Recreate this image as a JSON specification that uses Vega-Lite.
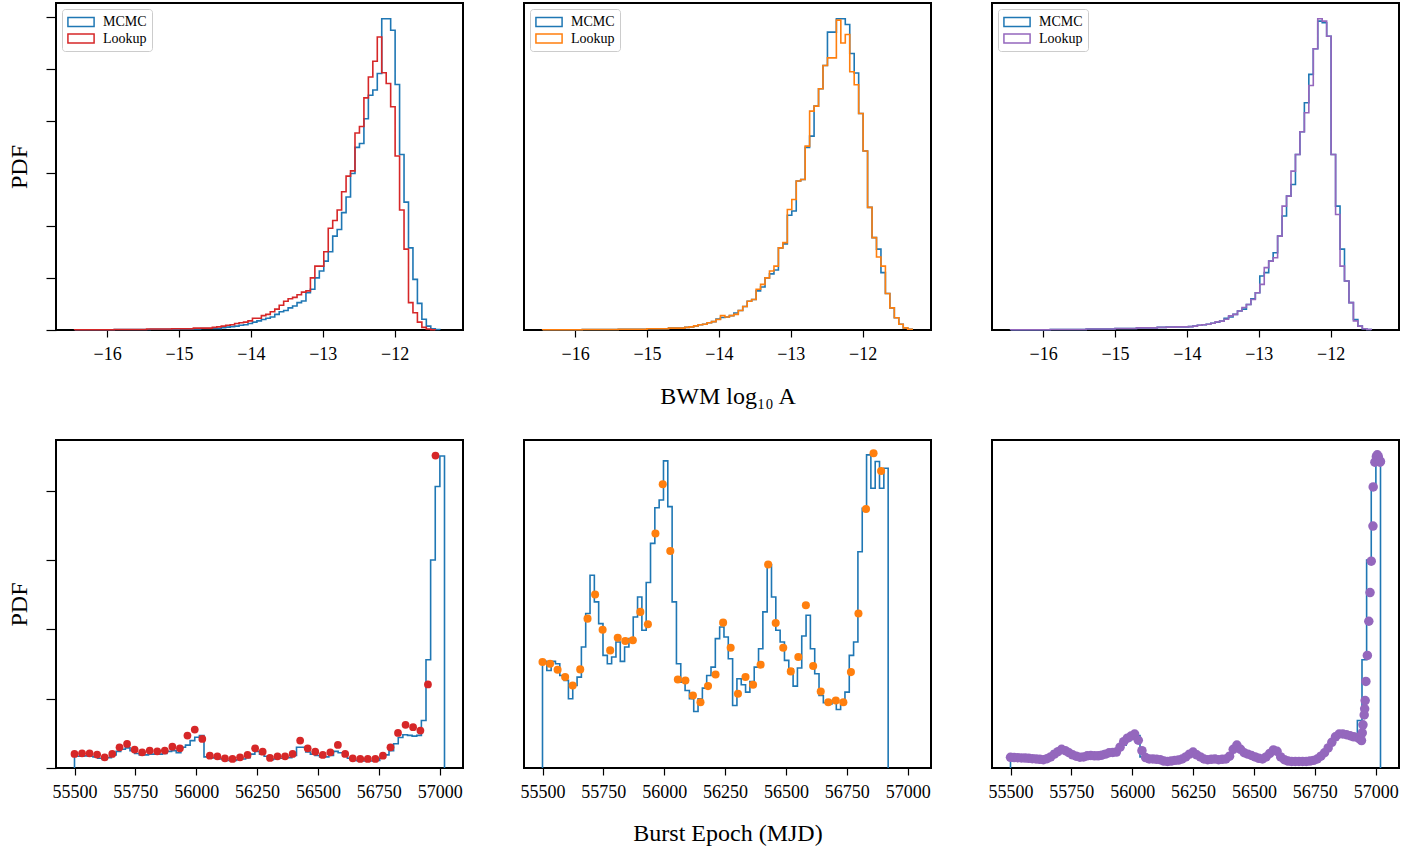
{
"$schema": "https://vega.github.io/schema/vega-lite/v6.json",
"background": "white",
"padding": {"left": 6, "top": 2, "right": 5, "bottom": 5},
"config": {
  "view": {"stroke": "black", "strokeWidth": 2},
  "axis": {"domain": false, "grid": false, "tickColor": "black", "tickWidth": 1.2, "tickSize": 7, "labelFont": "Liberation Serif", "labelFontSize": 18, "labelColor": "black", "labelPadding": 8, "titleFont": "Liberation Serif", "titleFontSize": 24, "titleFontWeight": "normal", "titleColor": "black"},
  "legend": {"orient": "top-left", "offset": 6, "title": null, "labelFont": "Liberation Serif", "labelFontSize": 14, "labelColor": "black", "fillColor": "white", "strokeColor": "#cccccc", "cornerRadius": 3, "padding": 5, "symbolType": "M-1,-0.62H2.7V0.62H-1Z", "symbolSize": 200, "symbolStrokeWidth": 1.5, "symbolFillColor": "transparent", "labelOffset": 20, "rowPadding": 0.5}
},
"datasets": {
"t1": [
{"s":"MCMC","x":-16.45,"y":0},{"s":"MCMC","x":-16.45,"y":0.001},{"s":"MCMC","x":-15.9,"y":0.002},{"s":"MCMC","x":-15.4,"y":0.003},{"s":"MCMC","x":-15.0,"y":0.004},{"s":"MCMC","x":-14.7,"y":0.006},{"s":"MCMC","x":-14.412,"y":0.009},{"s":"MCMC","x":-14.35,"y":0.011},{"s":"MCMC","x":-14.288,"y":0.013},{"s":"MCMC","x":-14.226,"y":0.015},{"s":"MCMC","x":-14.164,"y":0.018},{"s":"MCMC","x":-14.102,"y":0.02},{"s":"MCMC","x":-14.04,"y":0.025},{"s":"MCMC","x":-13.978,"y":0.03},{"s":"MCMC","x":-13.916,"y":0.035},{"s":"MCMC","x":-13.854,"y":0.04},{"s":"MCMC","x":-13.792,"y":0.045},{"s":"MCMC","x":-13.73,"y":0.05},{"s":"MCMC","x":-13.668,"y":0.06},{"s":"MCMC","x":-13.606,"y":0.07},{"s":"MCMC","x":-13.544,"y":0.075},{"s":"MCMC","x":-13.482,"y":0.085},{"s":"MCMC","x":-13.42,"y":0.092},{"s":"MCMC","x":-13.358,"y":0.105},{"s":"MCMC","x":-13.296,"y":0.111},{"s":"MCMC","x":-13.234,"y":0.143},{"s":"MCMC","x":-13.172,"y":0.156},{"s":"MCMC","x":-13.11,"y":0.2},{"s":"MCMC","x":-13.048,"y":0.226},{"s":"MCMC","x":-12.986,"y":0.264},{"s":"MCMC","x":-12.924,"y":0.3},{"s":"MCMC","x":-12.862,"y":0.36},{"s":"MCMC","x":-12.8,"y":0.385},{"s":"MCMC","x":-12.738,"y":0.45},{"s":"MCMC","x":-12.676,"y":0.51},{"s":"MCMC","x":-12.614,"y":0.6},{"s":"MCMC","x":-12.552,"y":0.7},{"s":"MCMC","x":-12.49,"y":0.715},{"s":"MCMC","x":-12.428,"y":0.81},{"s":"MCMC","x":-12.366,"y":0.9},{"s":"MCMC","x":-12.304,"y":0.92},{"s":"MCMC","x":-12.242,"y":0.983},{"s":"MCMC","x":-12.18,"y":1.193},{"s":"MCMC","x":-12.118,"y":1.193},{"s":"MCMC","x":-12.056,"y":1.149},{"s":"MCMC","x":-11.994,"y":0.941},{"s":"MCMC","x":-11.932,"y":0.673},{"s":"MCMC","x":-11.87,"y":0.49},{"s":"MCMC","x":-11.808,"y":0.315},{"s":"MCMC","x":-11.746,"y":0.194},{"s":"MCMC","x":-11.684,"y":0.102},{"s":"MCMC","x":-11.622,"y":0.041},{"s":"MCMC","x":-11.56,"y":0.015},{"s":"MCMC","x":-11.498,"y":0.005},{"s":"MCMC","x":-11.436,"y":0.002},{"s":"MCMC","x":-11.374,"y":0.002},{"s":"MCMC","x":-11.374,"y":0},
{"s":"Lookup","x":-16.45,"y":0},{"s":"Lookup","x":-16.45,"y":0.001},{"s":"Lookup","x":-15.9,"y":0.002},{"s":"Lookup","x":-15.45,"y":0.004},{"s":"Lookup","x":-15.1,"y":0.005},{"s":"Lookup","x":-14.8,"y":0.007},{"s":"Lookup","x":-14.536,"y":0.01},{"s":"Lookup","x":-14.474,"y":0.012},{"s":"Lookup","x":-14.412,"y":0.015},{"s":"Lookup","x":-14.35,"y":0.018},{"s":"Lookup","x":-14.288,"y":0.02},{"s":"Lookup","x":-14.226,"y":0.025},{"s":"Lookup","x":-14.164,"y":0.028},{"s":"Lookup","x":-14.102,"y":0.03},{"s":"Lookup","x":-14.04,"y":0.035},{"s":"Lookup","x":-13.978,"y":0.045},{"s":"Lookup","x":-13.916,"y":0.045},{"s":"Lookup","x":-13.854,"y":0.055},{"s":"Lookup","x":-13.792,"y":0.06},{"s":"Lookup","x":-13.73,"y":0.07},{"s":"Lookup","x":-13.668,"y":0.08},{"s":"Lookup","x":-13.606,"y":0.095},{"s":"Lookup","x":-13.544,"y":0.11},{"s":"Lookup","x":-13.482,"y":0.12},{"s":"Lookup","x":-13.42,"y":0.125},{"s":"Lookup","x":-13.358,"y":0.135},{"s":"Lookup","x":-13.296,"y":0.145},{"s":"Lookup","x":-13.234,"y":0.15},{"s":"Lookup","x":-13.172,"y":0.2},{"s":"Lookup","x":-13.11,"y":0.245},{"s":"Lookup","x":-13.048,"y":0.245},{"s":"Lookup","x":-12.986,"y":0.3},{"s":"Lookup","x":-12.924,"y":0.39},{"s":"Lookup","x":-12.862,"y":0.42},{"s":"Lookup","x":-12.8,"y":0.46},{"s":"Lookup","x":-12.738,"y":0.53},{"s":"Lookup","x":-12.676,"y":0.59},{"s":"Lookup","x":-12.614,"y":0.61},{"s":"Lookup","x":-12.552,"y":0.755},{"s":"Lookup","x":-12.49,"y":0.78},{"s":"Lookup","x":-12.428,"y":0.89},{"s":"Lookup","x":-12.366,"y":0.97},{"s":"Lookup","x":-12.304,"y":1.03},{"s":"Lookup","x":-12.242,"y":1.123},{"s":"Lookup","x":-12.18,"y":0.986},{"s":"Lookup","x":-12.118,"y":0.945},{"s":"Lookup","x":-12.056,"y":0.856},{"s":"Lookup","x":-11.994,"y":0.667},{"s":"Lookup","x":-11.932,"y":0.46},{"s":"Lookup","x":-11.87,"y":0.31},{"s":"Lookup","x":-11.808,"y":0.105},{"s":"Lookup","x":-11.746,"y":0.066},{"s":"Lookup","x":-11.684,"y":0.03},{"s":"Lookup","x":-11.622,"y":0.01},{"s":"Lookup","x":-11.56,"y":0.004},{"s":"Lookup","x":-11.498,"y":0.001},{"s":"Lookup","x":-11.436,"y":0.001},{"s":"Lookup","x":-11.436,"y":0}
],
"t2": [
{"s":"MCMC","x":-16.45,"y":0},{"s":"MCMC","x":-16.45,"y":0.001},{"s":"MCMC","x":-15.9,"y":0.002},{"s":"MCMC","x":-15.4,"y":0.003},{"s":"MCMC","x":-15.0,"y":0.005},{"s":"MCMC","x":-14.7,"y":0.007},{"s":"MCMC","x":-14.474,"y":0.01},{"s":"MCMC","x":-14.412,"y":0.012},{"s":"MCMC","x":-14.35,"y":0.016},{"s":"MCMC","x":-14.288,"y":0.02},{"s":"MCMC","x":-14.226,"y":0.022},{"s":"MCMC","x":-14.164,"y":0.028},{"s":"MCMC","x":-14.102,"y":0.032},{"s":"MCMC","x":-14.04,"y":0.042},{"s":"MCMC","x":-13.978,"y":0.048},{"s":"MCMC","x":-13.916,"y":0.05},{"s":"MCMC","x":-13.854,"y":0.055},{"s":"MCMC","x":-13.792,"y":0.065},{"s":"MCMC","x":-13.73,"y":0.075},{"s":"MCMC","x":-13.668,"y":0.09},{"s":"MCMC","x":-13.606,"y":0.11},{"s":"MCMC","x":-13.544,"y":0.117},{"s":"MCMC","x":-13.482,"y":0.15},{"s":"MCMC","x":-13.42,"y":0.165},{"s":"MCMC","x":-13.358,"y":0.2},{"s":"MCMC","x":-13.296,"y":0.215},{"s":"MCMC","x":-13.234,"y":0.23},{"s":"MCMC","x":-13.172,"y":0.315},{"s":"MCMC","x":-13.11,"y":0.33},{"s":"MCMC","x":-13.048,"y":0.44},{"s":"MCMC","x":-12.986,"y":0.456},{"s":"MCMC","x":-12.924,"y":0.571},{"s":"MCMC","x":-12.862,"y":0.577},{"s":"MCMC","x":-12.8,"y":0.7},{"s":"MCMC","x":-12.738,"y":0.743},{"s":"MCMC","x":-12.676,"y":0.858},{"s":"MCMC","x":-12.614,"y":0.925},{"s":"MCMC","x":-12.552,"y":1.014},{"s":"MCMC","x":-12.49,"y":1.142},{"s":"MCMC","x":-12.428,"y":1.142},{"s":"MCMC","x":-12.366,"y":1.193},{"s":"MCMC","x":-12.304,"y":1.193},{"s":"MCMC","x":-12.242,"y":1.171},{"s":"MCMC","x":-12.18,"y":1.06},{"s":"MCMC","x":-12.118,"y":0.985},{"s":"MCMC","x":-12.056,"y":0.83},{"s":"MCMC","x":-11.994,"y":0.686},{"s":"MCMC","x":-11.932,"y":0.47},{"s":"MCMC","x":-11.87,"y":0.354},{"s":"MCMC","x":-11.808,"y":0.31},{"s":"MCMC","x":-11.746,"y":0.22},{"s":"MCMC","x":-11.684,"y":0.14},{"s":"MCMC","x":-11.622,"y":0.085},{"s":"MCMC","x":-11.56,"y":0.047},{"s":"MCMC","x":-11.498,"y":0.022},{"s":"MCMC","x":-11.436,"y":0.008},{"s":"MCMC","x":-11.374,"y":0.003},{"s":"MCMC","x":-11.312,"y":0.003},{"s":"MCMC","x":-11.312,"y":0},
{"s":"Lookup","x":-16.45,"y":0},{"s":"Lookup","x":-16.45,"y":0.001},{"s":"Lookup","x":-15.9,"y":0.002},{"s":"Lookup","x":-15.4,"y":0.003},{"s":"Lookup","x":-15.0,"y":0.005},{"s":"Lookup","x":-14.7,"y":0.007},{"s":"Lookup","x":-14.474,"y":0.01},{"s":"Lookup","x":-14.412,"y":0.012},{"s":"Lookup","x":-14.35,"y":0.016},{"s":"Lookup","x":-14.288,"y":0.02},{"s":"Lookup","x":-14.226,"y":0.022},{"s":"Lookup","x":-14.164,"y":0.028},{"s":"Lookup","x":-14.102,"y":0.032},{"s":"Lookup","x":-14.04,"y":0.04},{"s":"Lookup","x":-13.978,"y":0.055},{"s":"Lookup","x":-13.916,"y":0.05},{"s":"Lookup","x":-13.854,"y":0.055},{"s":"Lookup","x":-13.792,"y":0.06},{"s":"Lookup","x":-13.73,"y":0.075},{"s":"Lookup","x":-13.668,"y":0.09},{"s":"Lookup","x":-13.606,"y":0.11},{"s":"Lookup","x":-13.544,"y":0.117},{"s":"Lookup","x":-13.482,"y":0.156},{"s":"Lookup","x":-13.42,"y":0.175},{"s":"Lookup","x":-13.358,"y":0.2},{"s":"Lookup","x":-13.296,"y":0.226},{"s":"Lookup","x":-13.234,"y":0.245},{"s":"Lookup","x":-13.172,"y":0.315},{"s":"Lookup","x":-13.11,"y":0.335},{"s":"Lookup","x":-13.048,"y":0.462},{"s":"Lookup","x":-12.986,"y":0.5},{"s":"Lookup","x":-12.924,"y":0.571},{"s":"Lookup","x":-12.862,"y":0.577},{"s":"Lookup","x":-12.8,"y":0.705},{"s":"Lookup","x":-12.738,"y":0.839},{"s":"Lookup","x":-12.676,"y":0.858},{"s":"Lookup","x":-12.614,"y":0.925},{"s":"Lookup","x":-12.552,"y":1.014},{"s":"Lookup","x":-12.49,"y":1.043},{"s":"Lookup","x":-12.428,"y":1.043},{"s":"Lookup","x":-12.366,"y":1.188},{"s":"Lookup","x":-12.304,"y":1.1},{"s":"Lookup","x":-12.242,"y":1.133},{"s":"Lookup","x":-12.18,"y":0.99},{"s":"Lookup","x":-12.118,"y":0.94},{"s":"Lookup","x":-12.056,"y":0.83},{"s":"Lookup","x":-11.994,"y":0.686},{"s":"Lookup","x":-11.932,"y":0.47},{"s":"Lookup","x":-11.87,"y":0.354},{"s":"Lookup","x":-11.808,"y":0.28},{"s":"Lookup","x":-11.746,"y":0.245},{"s":"Lookup","x":-11.684,"y":0.14},{"s":"Lookup","x":-11.622,"y":0.085},{"s":"Lookup","x":-11.56,"y":0.047},{"s":"Lookup","x":-11.498,"y":0.022},{"s":"Lookup","x":-11.436,"y":0.008},{"s":"Lookup","x":-11.374,"y":0.003},{"s":"Lookup","x":-11.312,"y":0.003},{"s":"Lookup","x":-11.312,"y":0}
],
"t3": [
{"s":"MCMC","x":-16.45,"y":0},{"s":"MCMC","x":-16.45,"y":0.001},{"s":"MCMC","x":-15.9,"y":0.002},{"s":"MCMC","x":-15.4,"y":0.004},{"s":"MCMC","x":-15.0,"y":0.006},{"s":"MCMC","x":-14.7,"y":0.008},{"s":"MCMC","x":-14.412,"y":0.01},{"s":"MCMC","x":-14.288,"y":0.011},{"s":"MCMC","x":-14.164,"y":0.012},{"s":"MCMC","x":-14.04,"y":0.012},{"s":"MCMC","x":-13.978,"y":0.013},{"s":"MCMC","x":-13.916,"y":0.015},{"s":"MCMC","x":-13.854,"y":0.018},{"s":"MCMC","x":-13.792,"y":0.02},{"s":"MCMC","x":-13.73,"y":0.022},{"s":"MCMC","x":-13.668,"y":0.026},{"s":"MCMC","x":-13.606,"y":0.03},{"s":"MCMC","x":-13.544,"y":0.034},{"s":"MCMC","x":-13.482,"y":0.045},{"s":"MCMC","x":-13.42,"y":0.05},{"s":"MCMC","x":-13.358,"y":0.06},{"s":"MCMC","x":-13.296,"y":0.073},{"s":"MCMC","x":-13.234,"y":0.08},{"s":"MCMC","x":-13.172,"y":0.098},{"s":"MCMC","x":-13.11,"y":0.12},{"s":"MCMC","x":-13.048,"y":0.143},{"s":"MCMC","x":-12.986,"y":0.207},{"s":"MCMC","x":-12.924,"y":0.22},{"s":"MCMC","x":-12.862,"y":0.264},{"s":"MCMC","x":-12.8,"y":0.296},{"s":"MCMC","x":-12.738,"y":0.36},{"s":"MCMC","x":-12.676,"y":0.437},{"s":"MCMC","x":-12.614,"y":0.513},{"s":"MCMC","x":-12.552,"y":0.558},{"s":"MCMC","x":-12.49,"y":0.673},{"s":"MCMC","x":-12.428,"y":0.76},{"s":"MCMC","x":-12.366,"y":0.871},{"s":"MCMC","x":-12.304,"y":0.98},{"s":"MCMC","x":-12.242,"y":1.078},{"s":"MCMC","x":-12.18,"y":1.184},{"s":"MCMC","x":-12.118,"y":1.178},{"s":"MCMC","x":-12.056,"y":1.126},{"s":"MCMC","x":-11.994,"y":0.673},{"s":"MCMC","x":-11.932,"y":0.475},{"s":"MCMC","x":-11.87,"y":0.31},{"s":"MCMC","x":-11.808,"y":0.188},{"s":"MCMC","x":-11.746,"y":0.105},{"s":"MCMC","x":-11.684,"y":0.04},{"s":"MCMC","x":-11.622,"y":0.015},{"s":"MCMC","x":-11.56,"y":0.005},{"s":"MCMC","x":-11.498,"y":0.002},{"s":"MCMC","x":-11.436,"y":0.002},{"s":"MCMC","x":-11.436,"y":0},
{"s":"Lookup","x":-16.45,"y":0},{"s":"Lookup","x":-16.45,"y":0.001},{"s":"Lookup","x":-15.9,"y":0.002},{"s":"Lookup","x":-15.4,"y":0.004},{"s":"Lookup","x":-15.0,"y":0.006},{"s":"Lookup","x":-14.7,"y":0.008},{"s":"Lookup","x":-14.412,"y":0.01},{"s":"Lookup","x":-14.288,"y":0.011},{"s":"Lookup","x":-14.164,"y":0.012},{"s":"Lookup","x":-14.04,"y":0.012},{"s":"Lookup","x":-13.978,"y":0.013},{"s":"Lookup","x":-13.916,"y":0.015},{"s":"Lookup","x":-13.854,"y":0.018},{"s":"Lookup","x":-13.792,"y":0.02},{"s":"Lookup","x":-13.73,"y":0.022},{"s":"Lookup","x":-13.668,"y":0.026},{"s":"Lookup","x":-13.606,"y":0.031},{"s":"Lookup","x":-13.544,"y":0.034},{"s":"Lookup","x":-13.482,"y":0.041},{"s":"Lookup","x":-13.42,"y":0.054},{"s":"Lookup","x":-13.358,"y":0.06},{"s":"Lookup","x":-13.296,"y":0.073},{"s":"Lookup","x":-13.234,"y":0.086},{"s":"Lookup","x":-13.172,"y":0.098},{"s":"Lookup","x":-13.11,"y":0.117},{"s":"Lookup","x":-13.048,"y":0.143},{"s":"Lookup","x":-12.986,"y":0.175},{"s":"Lookup","x":-12.924,"y":0.239},{"s":"Lookup","x":-12.862,"y":0.264},{"s":"Lookup","x":-12.8,"y":0.277},{"s":"Lookup","x":-12.738,"y":0.36},{"s":"Lookup","x":-12.676,"y":0.475},{"s":"Lookup","x":-12.614,"y":0.513},{"s":"Lookup","x":-12.552,"y":0.609},{"s":"Lookup","x":-12.49,"y":0.673},{"s":"Lookup","x":-12.428,"y":0.76},{"s":"Lookup","x":-12.366,"y":0.833},{"s":"Lookup","x":-12.304,"y":0.937},{"s":"Lookup","x":-12.242,"y":1.078},{"s":"Lookup","x":-12.18,"y":1.193},{"s":"Lookup","x":-12.118,"y":1.184},{"s":"Lookup","x":-12.056,"y":1.126},{"s":"Lookup","x":-11.994,"y":0.673},{"s":"Lookup","x":-11.932,"y":0.443},{"s":"Lookup","x":-11.87,"y":0.245},{"s":"Lookup","x":-11.808,"y":0.188},{"s":"Lookup","x":-11.746,"y":0.105},{"s":"Lookup","x":-11.684,"y":0.035},{"s":"Lookup","x":-11.622,"y":0.015},{"s":"Lookup","x":-11.56,"y":0.005},{"s":"Lookup","x":-11.498,"y":0.002},{"s":"Lookup","x":-11.436,"y":0.002},{"s":"Lookup","x":-11.436,"y":0}
],
"b1": [
{"x":55500,"y":0},{"x":55500,"y":0.17},{"x":55519,"y":0.17},{"x":55538,"y":0.175},{"x":55557,"y":0.17},{"x":55576,"y":0.16},{"x":55595,"y":0.14},{"x":55614,"y":0.125},{"x":55633,"y":0.15},{"x":55652,"y":0.19},{"x":55671,"y":0.24},{"x":55690,"y":0.27},{"x":55709,"y":0.29},{"x":55728,"y":0.25},{"x":55747,"y":0.21},{"x":55766,"y":0.19},{"x":55785,"y":0.19},{"x":55804,"y":0.2},{"x":55823,"y":0.2},{"x":55842,"y":0.2},{"x":55861,"y":0.21},{"x":55880,"y":0.24},{"x":55899,"y":0.25},{"x":55918,"y":0.22},{"x":55937,"y":0.3},{"x":55956,"y":0.33},{"x":55975,"y":0.395},{"x":55994,"y":0.443},{"x":56013,"y":0.467},{"x":56032,"y":0.16},{"x":56051,"y":0.15},{"x":56070,"y":0.145},{"x":56089,"y":0.13},{"x":56108,"y":0.115},{"x":56127,"y":0.11},{"x":56146,"y":0.11},{"x":56165,"y":0.12},{"x":56184,"y":0.13},{"x":56203,"y":0.15},{"x":56222,"y":0.2},{"x":56241,"y":0.24},{"x":56260,"y":0.2},{"x":56279,"y":0.17},{"x":56298,"y":0.12},{"x":56317,"y":0.13},{"x":56336,"y":0.14},{"x":56355,"y":0.14},{"x":56374,"y":0.15},{"x":56393,"y":0.18},{"x":56412,"y":0.3},{"x":56431,"y":0.3},{"x":56450,"y":0.23},{"x":56469,"y":0.2},{"x":56488,"y":0.18},{"x":56507,"y":0.16},{"x":56526,"y":0.16},{"x":56545,"y":0.18},{"x":56564,"y":0.24},{"x":56583,"y":0.22},{"x":56602,"y":0.17},{"x":56621,"y":0.14},{"x":56640,"y":0.11},{"x":56659,"y":0.105},{"x":56678,"y":0.1},{"x":56697,"y":0.1},{"x":56716,"y":0.1},{"x":56735,"y":0.11},{"x":56754,"y":0.14},{"x":56773,"y":0.19},{"x":56792,"y":0.25},{"x":56811,"y":0.35},{"x":56830,"y":0.44},{"x":56849,"y":0.48},{"x":56868,"y":0.47},{"x":56887,"y":0.46},{"x":56906,"y":0.47},{"x":56925,"y":0.684},{"x":56944,"y":1.56},{"x":56963,"y":3.0},{"x":56982,"y":4.06},{"x":57001,"y":4.5},{"x":57020,"y":4.5},{"x":57020,"y":0}
],
"b2": [
{"x":55500,"y":0},{"x":55500,"y":1.537},{"x":55517.75,"y":1.407},{"x":55535.5,"y":1.537},{"x":55553.25,"y":1.504},{"x":55571,"y":1.335},{"x":55588.75,"y":1.263},{"x":55606.5,"y":0.998},{"x":55624.25,"y":1.19},{"x":55642,"y":1.311},{"x":55659.75,"y":1.745},{"x":55677.5,"y":2.227},{"x":55695.25,"y":2.78},{"x":55713,"y":2.395},{"x":55730.75,"y":2.082},{"x":55748.5,"y":1.624},{"x":55766.25,"y":1.504},{"x":55784,"y":1.6},{"x":55801.75,"y":1.817},{"x":55819.5,"y":1.537},{"x":55837.25,"y":1.745},{"x":55855,"y":1.865},{"x":55872.75,"y":2.178},{"x":55890.5,"y":2.467},{"x":55908.25,"y":1.986},{"x":55926,"y":2.675},{"x":55943.75,"y":3.239},{"x":55961.5,"y":3.754},{"x":55979.25,"y":3.865},{"x":55997,"y":4.429},{"x":56014.75,"y":3.769},{"x":56032.5,"y":2.395},{"x":56050.25,"y":1.504},{"x":56068,"y":1.239},{"x":56085.75,"y":1.118},{"x":56103.5,"y":0.998},{"x":56121.25,"y":0.814},{"x":56139,"y":0.998},{"x":56156.75,"y":1.152},{"x":56174.5,"y":1.335},{"x":56192.25,"y":1.455},{"x":56210,"y":1.865},{"x":56227.75,"y":2.034},{"x":56245.5,"y":1.889},{"x":56263.25,"y":1.576},{"x":56281,"y":0.901},{"x":56298.75,"y":1.287},{"x":56316.5,"y":1.2},{"x":56334.25,"y":1.094},{"x":56352,"y":1.248},{"x":56369.75,"y":1.455},{"x":56387.5,"y":1.72},{"x":56405.25,"y":2.251},{"x":56423,"y":2.935},{"x":56440.75,"y":2.467},{"x":56458.5,"y":1.986},{"x":56476.25,"y":1.817},{"x":56494,"y":1.552},{"x":56511.75,"y":1.431},{"x":56529.5,"y":1.181},{"x":56547.25,"y":1.441},{"x":56565,"y":1.904},{"x":56582.75,"y":2.202},{"x":56600.5,"y":1.72},{"x":56618.25,"y":1.359},{"x":56636,"y":1.046},{"x":56653.75,"y":0.94},{"x":56671.5,"y":0.925},{"x":56689.25,"y":0.973},{"x":56707,"y":0.843},{"x":56724.75,"y":0.949},{"x":56742.5,"y":1.094},{"x":56760.25,"y":1.624},{"x":56778,"y":1.817},{"x":56795.75,"y":3.118},{"x":56813.5,"y":3.745},{"x":56831.25,"y":4.516},{"x":56849,"y":4.034},{"x":56866.75,"y":4.419},{"x":56884.5,"y":4.034},{"x":56902.25,"y":4.323},{"x":56920,"y":4.323},{"x":56920,"y":0}
],
"d1": [
{"x":55500,"y":0.202},{"x":55531,"y":0.212},{"x":55562,"y":0.212},{"x":55593,"y":0.193},{"x":55624,"y":0.154},{"x":55655,"y":0.202},{"x":55685,"y":0.299},{"x":55716,"y":0.347},{"x":55747,"y":0.265},{"x":55778,"y":0.227},{"x":55809,"y":0.251},{"x":55840,"y":0.241},{"x":55871,"y":0.251},{"x":55902,"y":0.308},{"x":55933,"y":0.284},{"x":55964,"y":0.467},{"x":55994,"y":0.554},{"x":56025,"y":0.419},{"x":56056,"y":0.178},{"x":56087,"y":0.169},{"x":56118,"y":0.14},{"x":56149,"y":0.13},{"x":56180,"y":0.154},{"x":56211,"y":0.188},{"x":56242,"y":0.284},{"x":56273,"y":0.236},{"x":56303,"y":0.145},{"x":56334,"y":0.169},{"x":56365,"y":0.169},{"x":56396,"y":0.202},{"x":56427,"y":0.395},{"x":56458,"y":0.284},{"x":56489,"y":0.236},{"x":56520,"y":0.188},{"x":56551,"y":0.227},{"x":56582,"y":0.333},{"x":56612,"y":0.202},{"x":56643,"y":0.14},{"x":56674,"y":0.13},{"x":56705,"y":0.13},{"x":56736,"y":0.13},{"x":56767,"y":0.178},{"x":56798,"y":0.299},{"x":56829,"y":0.506},{"x":56860,"y":0.622},{"x":56891,"y":0.588},{"x":56921,"y":0.54},{"x":56952,"y":1.205},{"x":56983,"y":4.506}
],
"d2": [
{"x":55500,"y":1.528},{"x":55531,"y":1.504},{"x":55562,"y":1.417},{"x":55593,"y":1.311},{"x":55624,"y":1.19},{"x":55655,"y":1.422},{"x":55685,"y":2.154},{"x":55716,"y":2.501},{"x":55747,"y":1.995},{"x":55778,"y":1.696},{"x":55809,"y":1.879},{"x":55840,"y":1.831},{"x":55871,"y":1.841},{"x":55902,"y":2.251},{"x":55933,"y":2.072},{"x":55964,"y":3.383},{"x":55994,"y":4.092},{"x":56025,"y":3.128},{"x":56056,"y":1.277},{"x":56087,"y":1.263},{"x":56118,"y":1.046},{"x":56149,"y":0.949},{"x":56180,"y":1.181},{"x":56211,"y":1.349},{"x":56242,"y":2.096},{"x":56273,"y":1.735},{"x":56303,"y":1.07},{"x":56334,"y":1.311},{"x":56365,"y":1.2},{"x":56396,"y":1.489},{"x":56427,"y":2.935},{"x":56458,"y":2.092},{"x":56489,"y":1.735},{"x":56520,"y":1.393},{"x":56551,"y":1.6},{"x":56582,"y":2.347},{"x":56612,"y":1.47},{"x":56643,"y":1.104},{"x":56674,"y":0.949},{"x":56705,"y":0.973},{"x":56736,"y":0.949},{"x":56767,"y":1.383},{"x":56798,"y":2.227},{"x":56829,"y":3.735},{"x":56860,"y":4.54},{"x":56891,"y":4.284}
],
"d3": [
{"x":55500,"y":0.154},{"x":55515,"y":0.15},{"x":55530,"y":0.148},{"x":55545,"y":0.145},{"x":55560,"y":0.143},{"x":55575,"y":0.14},{"x":55590,"y":0.135},{"x":55605,"y":0.13},{"x":55620,"y":0.125},{"x":55635,"y":0.12},{"x":55650,"y":0.135},{"x":55665,"y":0.16},{"x":55680,"y":0.2},{"x":55695,"y":0.235},{"x":55710,"y":0.27},{"x":55725,"y":0.25},{"x":55740,"y":0.22},{"x":55755,"y":0.19},{"x":55770,"y":0.17},{"x":55785,"y":0.155},{"x":55800,"y":0.16},{"x":55815,"y":0.175},{"x":55830,"y":0.18},{"x":55845,"y":0.175},{"x":55860,"y":0.175},{"x":55875,"y":0.185},{"x":55890,"y":0.2},{"x":55905,"y":0.22},{"x":55920,"y":0.225},{"x":55935,"y":0.23},{"x":55950,"y":0.3},{"x":55965,"y":0.38},{"x":55980,"y":0.43},{"x":55995,"y":0.46},{"x":56010,"y":0.49},{"x":56025,"y":0.4},{"x":56040,"y":0.25},{"x":56055,"y":0.15},{"x":56070,"y":0.13},{"x":56085,"y":0.13},{"x":56100,"y":0.125},{"x":56115,"y":0.12},{"x":56130,"y":0.1},{"x":56145,"y":0.095},{"x":56160,"y":0.1},{"x":56175,"y":0.11},{"x":56190,"y":0.115},{"x":56205,"y":0.13},{"x":56220,"y":0.16},{"x":56235,"y":0.2},{"x":56250,"y":0.23},{"x":56265,"y":0.19},{"x":56280,"y":0.16},{"x":56295,"y":0.13},{"x":56310,"y":0.12},{"x":56325,"y":0.125},{"x":56340,"y":0.13},{"x":56355,"y":0.12},{"x":56370,"y":0.125},{"x":56385,"y":0.13},{"x":56400,"y":0.17},{"x":56415,"y":0.27},{"x":56430,"y":0.33},{"x":56445,"y":0.27},{"x":56460,"y":0.22},{"x":56475,"y":0.2},{"x":56490,"y":0.18},{"x":56505,"y":0.16},{"x":56520,"y":0.14},{"x":56535,"y":0.13},{"x":56550,"y":0.16},{"x":56565,"y":0.21},{"x":56580,"y":0.26},{"x":56595,"y":0.24},{"x":56610,"y":0.16},{"x":56625,"y":0.12},{"x":56640,"y":0.1},{"x":56655,"y":0.095},{"x":56670,"y":0.095},{"x":56685,"y":0.095},{"x":56700,"y":0.095},{"x":56715,"y":0.095},{"x":56730,"y":0.1},{"x":56745,"y":0.11},{"x":56760,"y":0.13},{"x":56775,"y":0.17},{"x":56790,"y":0.22},{"x":56805,"y":0.29},{"x":56820,"y":0.37},{"x":56835,"y":0.45},{"x":56850,"y":0.49},{"x":56865,"y":0.49},{"x":56880,"y":0.48},{"x":56895,"y":0.465},{"x":56910,"y":0.45},{"x":56925,"y":0.44},{"x":56935,"y":0.42},{"x":56942,"y":0.395},{"x":56945,"y":0.506},{"x":56948,"y":0.622},{"x":56953,"y":0.766},{"x":56955,"y":0.853},{"x":56957,"y":0.973},{"x":56960,"y":1.248},{"x":56966,"y":1.624},{"x":56972,"y":2.116},{"x":56977,"y":2.53},{"x":56982,"y":2.983},{"x":56989,"y":3.489},{"x":56990,"y":4.053},{"x":56997,"y":4.41},{"x":57003,"y":4.49},{"x":57007,"y":4.516},{"x":57011,"y":4.49},{"x":57014,"y":4.443},{"x":57018,"y":4.41},{"x":57020,"y":4.42}
]
},
"columns": 3,
"spacing": {"row": 110, "column": 61},
"bounds": "flush",
"resolve": {"scale": {"color": "independent"}, "legend": {"color": "independent"}},
"concat": [
{
 "width": 407, "height": 327,
 "data": {"name": "t1"},
 "encoding": {
  "x": {"field": "x", "type": "quantitative", "scale": {"domain": [-16.71, -11.05], "nice": false, "zero": false}, "axis": {"values": [-16,-15,-14,-13,-12], "title": null}},
  "y": {"field": "y", "type": "quantitative", "scale": {"domain": [0, 1.2535], "nice": false}, "axis": {"values": [0,0.2,0.4,0.6,0.8,1,1.2], "labels": false, "tickSize": 10, "title": "PDF", "titlePadding": 13.5}},
  "color": {"field": "s", "type": "nominal", "scale": {"domain": ["MCMC","Lookup"], "range": ["#1f77b4","#d62728"]}}
 },
 "layer": [
  {"transform": [{"filter": "datum.s === 'MCMC'"}], "mark": {"type": "line", "interpolate": "step-after", "strokeWidth": 1.6}, "encoding": {}},
  {"transform": [{"filter": "datum.s === 'Lookup'"}], "mark": {"type": "line", "interpolate": "step-after", "strokeWidth": 1.6}, "encoding": {}}
 ]
},
{
 "width": 407, "height": 327,
 "data": {"name": "t2"},
 "encoding": {
  "x": {"field": "x", "type": "quantitative", "scale": {"domain": [-16.71, -11.05], "nice": false, "zero": false}, "axis": {"values": [-16,-15,-14,-13,-12], "title": "BWM log₁₀ A", "titlePadding": 21}},
  "y": {"field": "y", "type": "quantitative", "scale": {"domain": [0, 1.2535], "nice": false}, "axis": null},
  "color": {"field": "s", "type": "nominal", "scale": {"domain": ["MCMC","Lookup"], "range": ["#1f77b4","#ff7f0e"]}}
 },
 "layer": [
  {"transform": [{"filter": "datum.s === 'MCMC'"}], "mark": {"type": "line", "interpolate": "step-after", "strokeWidth": 1.6}, "encoding": {}},
  {"transform": [{"filter": "datum.s === 'Lookup'"}], "mark": {"type": "line", "interpolate": "step-after", "strokeWidth": 1.6}, "encoding": {}}
 ]
},
{
 "width": 407, "height": 327,
 "data": {"name": "t3"},
 "encoding": {
  "x": {"field": "x", "type": "quantitative", "scale": {"domain": [-16.71, -11.05], "nice": false, "zero": false}, "axis": {"values": [-16,-15,-14,-13,-12], "title": null}},
  "y": {"field": "y", "type": "quantitative", "scale": {"domain": [0, 1.2535], "nice": false}, "axis": null},
  "color": {"field": "s", "type": "nominal", "scale": {"domain": ["MCMC","Lookup"], "range": ["#1f77b4","#9467bd"]}}
 },
 "layer": [
  {"transform": [{"filter": "datum.s === 'MCMC'"}], "mark": {"type": "line", "interpolate": "step-after", "strokeWidth": 1.6}, "encoding": {}},
  {"transform": [{"filter": "datum.s === 'Lookup'"}], "mark": {"type": "line", "interpolate": "step-after", "strokeWidth": 1.6}, "encoding": {}}
 ]
},
{
 "width": 407, "height": 328,
 "encoding": {
  "x": {"field": "x", "type": "quantitative", "scale": {"domain": [55424, 57096], "nice": false, "zero": false}, "axis": {"values": [55500,55750,56000,56250,56500,56750,57000], "format": "d", "title": null}},
  "y": {"field": "y", "type": "quantitative", "scale": {"domain": [0, 4.73], "nice": false}, "axis": {"values": [0,1,2,3,4], "labels": false, "tickSize": 10, "title": "PDF", "titlePadding": 13.5}}
 },
 "layer": [
  {"data": {"name": "b1"}, "mark": {"type": "line", "interpolate": "step-after", "color": "#1f77b4", "strokeWidth": 1.6}, "encoding": {}},
  {"data": {"name": "d1"}, "mark": {"type": "point", "filled": true, "color": "#d62728", "size": 60, "opacity": 1}, "encoding": {}}
 ]
},
{
 "width": 407, "height": 328,
 "encoding": {
  "x": {"field": "x", "type": "quantitative", "scale": {"domain": [55424, 57096], "nice": false, "zero": false}, "axis": {"values": [55500,55750,56000,56250,56500,56750,57000], "format": "d", "title": "Burst Epoch (MJD)", "titlePadding": 20}},
  "y": {"field": "y", "type": "quantitative", "scale": {"domain": [0, 4.73], "nice": false}, "axis": null}
 },
 "layer": [
  {"data": {"name": "b2"}, "mark": {"type": "line", "interpolate": "step-after", "color": "#1f77b4", "strokeWidth": 1.6}, "encoding": {}},
  {"data": {"name": "d2"}, "mark": {"type": "point", "filled": true, "color": "#ff7f0e", "size": 65, "opacity": 1}, "encoding": {}}
 ]
},
{
 "width": 407, "height": 328,
 "encoding": {
  "x": {"field": "x", "type": "quantitative", "scale": {"domain": [55424, 57096], "nice": false, "zero": false}, "axis": {"values": [55500,55750,56000,56250,56500,56750,57000], "format": "d", "title": null}},
  "y": {"field": "y", "type": "quantitative", "scale": {"domain": [0, 4.73], "nice": false}, "axis": null}
 },
 "layer": [
  {"data": {"name": "b1"}, "mark": {"type": "line", "interpolate": "step-after", "color": "#1f77b4", "strokeWidth": 1.6}, "encoding": {}},
  {"data": {"name": "d3"}, "mark": {"type": "point", "filled": true, "color": "#9467bd", "size": 90, "opacity": 1}, "encoding": {}}
 ]
}
]
}
